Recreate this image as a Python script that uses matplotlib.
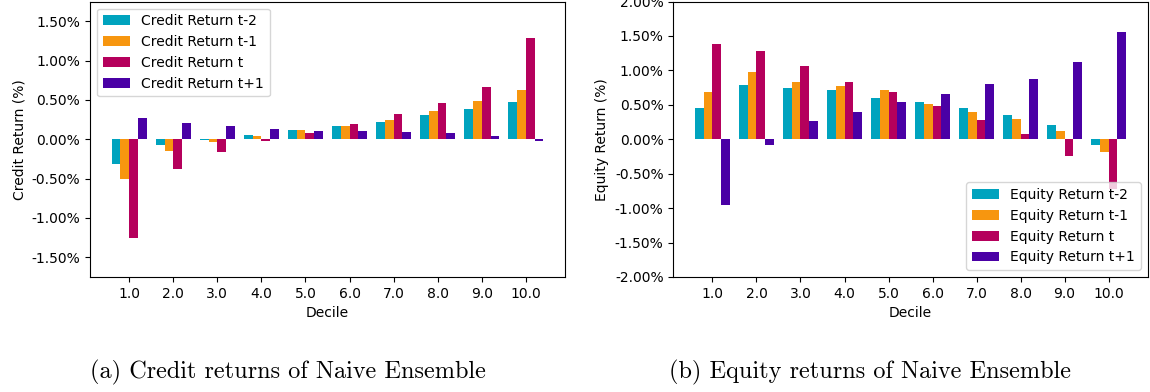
import numpy as np
import matplotlib
matplotlib.use("Agg")
import matplotlib.pyplot as plt
from matplotlib.ticker import PercentFormatter

plt.rcParams['axes.unicode_minus'] = False

# Decile portfolios of the naive ensemble (returns in %)
deciles = [1.0, 2.0, 3.0, 4.0, 5.0, 6.0, 7.0, 8.0, 9.0, 10.0]
decile_labels = ["1.0", "2.0", "3.0", "4.0", "5.0", "6.0", "7.0", "8.0", "9.0", "10.0"]

credit_t_m2 = [-0.31, -0.07, -0.005, 0.055, 0.12, 0.17, 0.225, 0.305, 0.385, 0.475]
credit_t_m1 = [-0.50, -0.145, -0.03, 0.04, 0.12, 0.17, 0.25, 0.355, 0.49, 0.63]
credit_t = [-1.25, -0.38, -0.16, -0.02, 0.08, 0.20, 0.32, 0.46, 0.665, 1.29]
credit_t_p1 = [0.27, 0.21, 0.17, 0.135, 0.105, 0.105, 0.09, 0.08, 0.04, -0.02]

equity_t_m2 = [0.45, 0.79, 0.75, 0.72, 0.60, 0.54, 0.455, 0.35, 0.21, -0.08]
equity_t_m1 = [0.69, 0.97, 0.835, 0.78, 0.71, 0.515, 0.39, 0.29, 0.125, -0.19]
equity_t = [1.39, 1.28, 1.06, 0.835, 0.69, 0.485, 0.28, 0.08, -0.24, -0.72]
equity_t_p1 = [-0.96, -0.087, 0.26, 0.40, 0.54, 0.66, 0.805, 0.88, 1.12, 1.56]

colors = ["#00A3BE", "#F7960F", "#B5005C", "#4A00A5"]
suffixes = ["t-2", "t-1", "t", "t+1"]

fig = plt.figure(figsize=(11.5, 3.92), dpi=100)
ax1 = fig.add_axes([0.0783, 0.2934, 0.413, 0.7026])
ax2 = fig.add_axes([0.5855, 0.2934, 0.4125, 0.7026])

x = np.array(deciles)
width = 0.2
offsets = [-1.5 * width, -0.5 * width, 0.5 * width, 1.5 * width]

fs = 10
panels = [
    (ax1, "Credit", [credit_t_m2, credit_t_m1, credit_t, credit_t_p1], 1.75, "upper left"),
    (ax2, "Equity", [equity_t_m2, equity_t_m1, equity_t, equity_t_p1], 2.0, "lower right"),
]

for ax, name, series, lim, loc in panels:
    for vals, off, c, s in zip(series, offsets, colors, suffixes):
        ax.bar(x + off, vals, width, color=c, label=f"{name} Return {s}")
    ax.set_ylim(-lim, lim)
    ax.set_xticks(x)
    ax.set_xticklabels(decile_labels)
    ax.yaxis.set_major_formatter(PercentFormatter(100, decimals=2))
    ax.tick_params(labelsize=fs)
    ax.set_xlabel("Decile", fontsize=fs)
    ax.set_ylabel(f"{name} Return (%)", fontsize=fs)
    ax.legend(loc=loc, fontsize=fs)

ax2.set_yticks(np.arange(-2.0, 2.01, 0.5))

fig.text(0.25, 0.051, "(a) Credit returns of Naive Ensemble",
         ha="center", va="center", family="cmr10", fontsize=17.5)
fig.text(0.7565, 0.051, "(b) Equity returns of Naive Ensemble",
         ha="center", va="center", family="cmr10", fontsize=17.5)

fig.savefig("out.png", dpi=100)
